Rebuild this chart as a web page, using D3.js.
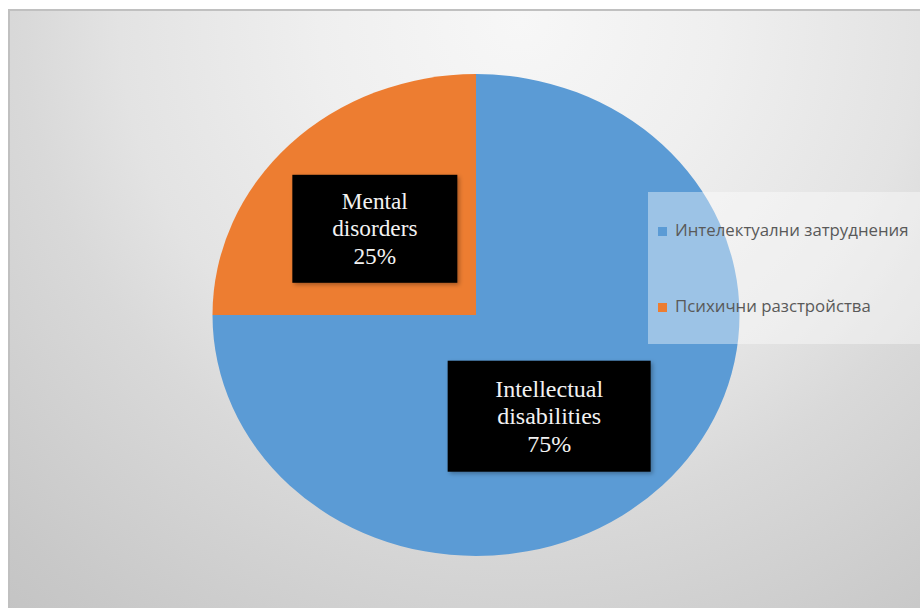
<!DOCTYPE html>
<html><head><meta charset="utf-8">
<script src="https://cdn.jsdelivr.net/npm/d3@7"></script>
<style>html,body{margin:0;padding:0;background:#fff;}svg{display:block;}</style>
</head><body>
<script>
// ---- data ----
const categories = ["Интелектуални затруднения", "Психични разстройства"];
const labelNames = [["Intellectual", "disabilities"], ["Mental", "disorders"]];
const values = [75, 25];
const colors = ["#5B9BD5", "#ED7D31"];

const W = 920, H = 608;
const svg = d3.select("body").append("svg").attr("width", W).attr("height", H);
const defs = svg.append("defs");
const grad = defs.append("radialGradient").attr("id", "bg")
  .attr("gradientUnits", "userSpaceOnUse").attr("cx", 520).attr("cy", 20).attr("r", 800);
[[0, "#f7f7f7"], [0.25, "#efefef"], [0.5, "#e3e3e3"], [0.62, "#d9d9d9"], [0.9, "#c8c8c8"], [1, "#c3c3c3"]]
  .forEach(([o, c]) => grad.append("stop").attr("offset", o).attr("stop-color", c));
const sh = defs.append("filter").attr("id", "sh").attr("x", "-10%").attr("y", "-10%").attr("width", "130%").attr("height", "130%");
sh.append("feDropShadow").attr("dx", 2).attr("dy", 2).attr("stdDeviation", 2).attr("flood-color", "#000").attr("flood-opacity", 0.3);

// background frame
svg.append("rect").attr("x", 9).attr("y", 10).attr("width", W).attr("height", H)
  .attr("fill", "url(#bg)").attr("stroke", "#c0c0c0").attr("stroke-width", 2);

// pie (elliptical)
const cx = 476, cy = 315, rx = 263.5, ry = 241;
const pie = d3.pie().sort(null).value(d => d)
  .startAngle(0).endAngle(2 * Math.PI);
const arcs = pie(values);
const arc = d3.arc().innerRadius(0).outerRadius(1);
const g = svg.append("g").attr("transform", `translate(${cx},${cy}) scale(${rx},${ry})`);
g.selectAll("path").data(arcs).join("path")
  .attr("d", arc).attr("fill", (d, i) => colors[i]);

// legend
const lg = svg.append("g");
lg.append("rect").attr("x", 648).attr("y", 192).attr("width", 272).attr("height", 152)
  .attr("fill", "#ffffff").attr("fill-opacity", 0.4);
const legY = d3.scalePoint().domain(categories).range([236, 312]);
categories.forEach((c, i) => {
  const y = legY(c);
  lg.append("rect").attr("x", 658).attr("y", y - 9).attr("width", 9).attr("height", 9).attr("fill", colors[i]);
  lg.append("text").attr("x", 675).attr("y", y).attr("fill", "#595959")
    .style("font-family", "'Open Sans', sans-serif").style("font-size", "16.8px").text(c);
});

// data labels
const labelStyle = [
  { dx: -20, dy: 16, w: 203, h: 111, fs: 24 },
  { dx: -8, dy: -1, w: 165, h: 108, fs: 23.3 }
];
arcs.forEach((a, i) => {
  const c = d3.arc().innerRadius(0).outerRadius(1).centroid(a); // at radius 0.5
  const st = labelStyle[i];
  const x = cx + c[0] * rx + st.dx, y = cy + c[1] * ry + st.dy;
  const lgp = svg.append("g");
  lgp.append("rect").attr("x", x - st.w / 2).attr("y", y - st.h / 2).attr("width", st.w).attr("height", st.h)
    .attr("fill", "#000").attr("filter", "url(#sh)");
  const lines = labelNames[i].concat([values[i] + "%"]);
  const lh = 27.5;
  lines.forEach((t, k) => {
    lgp.append("text").attr("x", x).attr("y", y + (k - 1) * lh + st.fs * 0.33)
      .attr("text-anchor", "middle").attr("fill", "#f2f2f2")
      .style("font-family", "'Liberation Serif', 'Times New Roman', serif").style("font-size", st.fs + "px")
      .text(t);
  });
});
</script>
</body></html>
